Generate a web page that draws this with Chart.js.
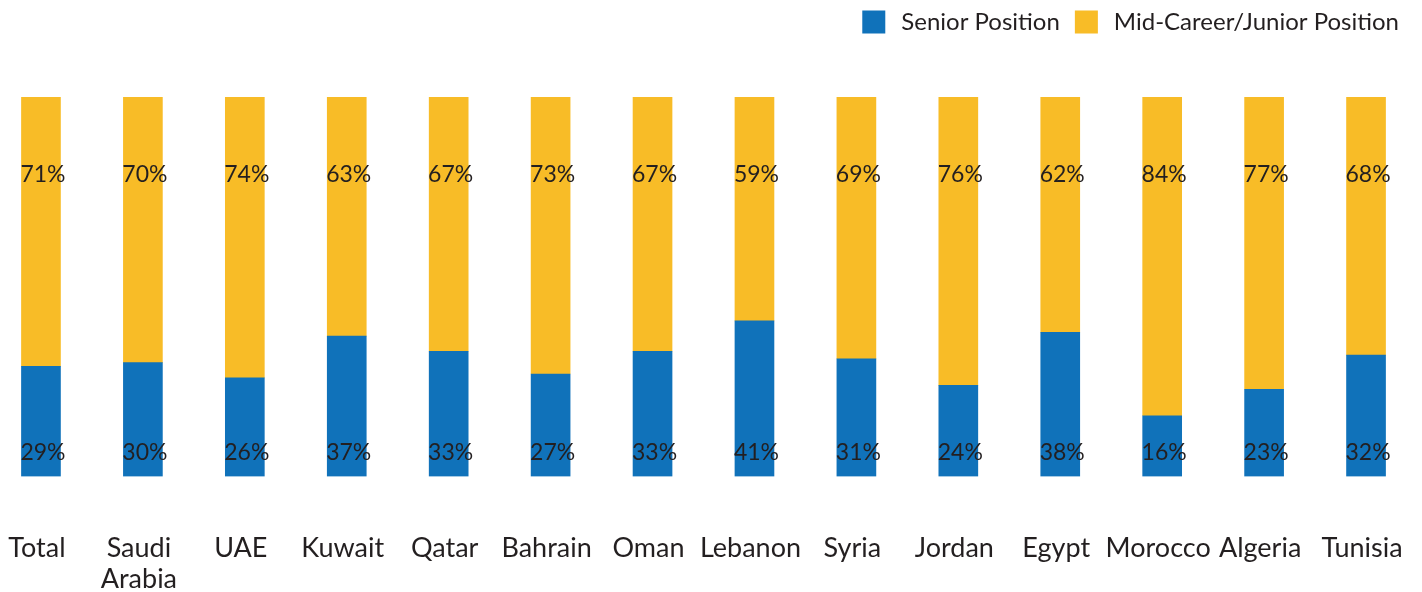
<!DOCTYPE html>
<html>
<head>
<meta charset="utf-8">
<script src="https://cdn.jsdelivr.net/npm/chart.js@4.4.1/dist/chart.umd.min.js"></script>
<style>
  html, body { margin: 0; padding: 0; background: #fff; overflow: hidden; }
  #wrap { position: absolute; left: -10px; top: 0; width: 1427px; height: 592px; }
</style>
</head>
<body>
<div id="wrap"><canvas id="c"></canvas></div>
<script>
const categories = ['Total', ['Saudi', 'Arabia'], 'UAE', 'Kuwait', 'Qatar', 'Bahrain', 'Oman', 'Lebanon', 'Syria', 'Jordan', 'Egypt', 'Morocco', 'Algeria', 'Tunisia'];
const seniorValues = [29, 30, 26, 37, 33, 27, 33, 41, 31, 24, 38, 16, 23, 32];
const juniorValues = [71, 70, 74, 63, 67, 73, 67, 59, 69, 76, 62, 84, 77, 68];
const seriesNames = ['Senior Position', 'Mid-Career/Junior Position'];

const BLUE = '#1072BA';
const YELLOW = '#F8BC27';
const TEXT = '#231F20';
const FONT = 'Lato, "Open Sans", sans-serif';

const labelPlugin = {
  id: 'valueLabels',
  afterDatasetsDraw(chart) {
    const ctx = chart.ctx;
    const y = chart.scales.y;
    const rows = [ { ds: 0, at: 6.2 }, { ds: 1, at: 79.5 } ];
    ctx.save();
    ctx.font = '23px ' + FONT;
    ctx.fillStyle = TEXT;
    ctx.textAlign = 'center';
    ctx.textBaseline = 'middle';
    rows.forEach(r => {
      const meta = chart.getDatasetMeta(r.ds);
      meta.data.forEach((bar, i) => {
        ctx.fillText(chart.data.datasets[r.ds].data[i] + '%', bar.x + 2, y.getPixelForValue(r.at));
      });
    });
    ctx.restore();
  }
};

const legendPlugin = {
  id: 'customLegend',
  afterDraw(chart) {
    const ctx = chart.ctx;
    ctx.save();
    ctx.font = '24px ' + FONT;
    ctx.textBaseline = 'middle';
    const box = 23, gapText = 16, gapItem = 15, cy = 22;
    let x = 1409; // right edge in canvas coords
    const items = chart.data.datasets.map(d => ({ label: d.label, color: d.backgroundColor })).reverse();
    items.forEach(it => {
      const w = ctx.measureText(it.label).width;
      const tx = x - w;
      ctx.fillStyle = TEXT;
      ctx.textAlign = 'left';
      ctx.fillText(it.label, tx, cy);
      const bx = tx - gapText - box;
      ctx.fillStyle = it.color;
      ctx.fillRect(bx, cy - box / 2, box, box);
      x = bx - gapItem;
    });
    ctx.restore();
  }
};

new Chart(document.getElementById('c'), {
  type: 'bar',
  data: {
    labels: categories,
    datasets: [
      { label: seriesNames[0], data: seniorValues, backgroundColor: BLUE, barThickness: 39 },
      { label: seriesNames[1], data: juniorValues, backgroundColor: YELLOW, barThickness: 39 }
    ]
  },
  options: {
    responsive: true,
    maintainAspectRatio: false,
    animation: false,
    layout: { padding: { top: 97, left: 0, right: 0, bottom: 0 } },
    plugins: { legend: { display: false }, tooltip: { enabled: false } },
    scales: {
      x: {
        stacked: true,
        grid: { display: false },
        border: { display: false },
        afterFit(scale) { scale.height = 115.5; scale.paddingLeft = 0; scale.paddingRight = 0; },
        ticks: {
          autoSkip: false, maxRotation: 0, minRotation: 0,
          padding: 49,
          labelOffset: -4,
          color: TEXT,
          font: { family: FONT, size: 27, lineHeight: 1.12 }
        }
      },
      y: {
        stacked: true,
        display: false,
        min: 0, max: 100
      }
    }
  },
  plugins: [labelPlugin, legendPlugin]
});
</script>
</body>
</html>
